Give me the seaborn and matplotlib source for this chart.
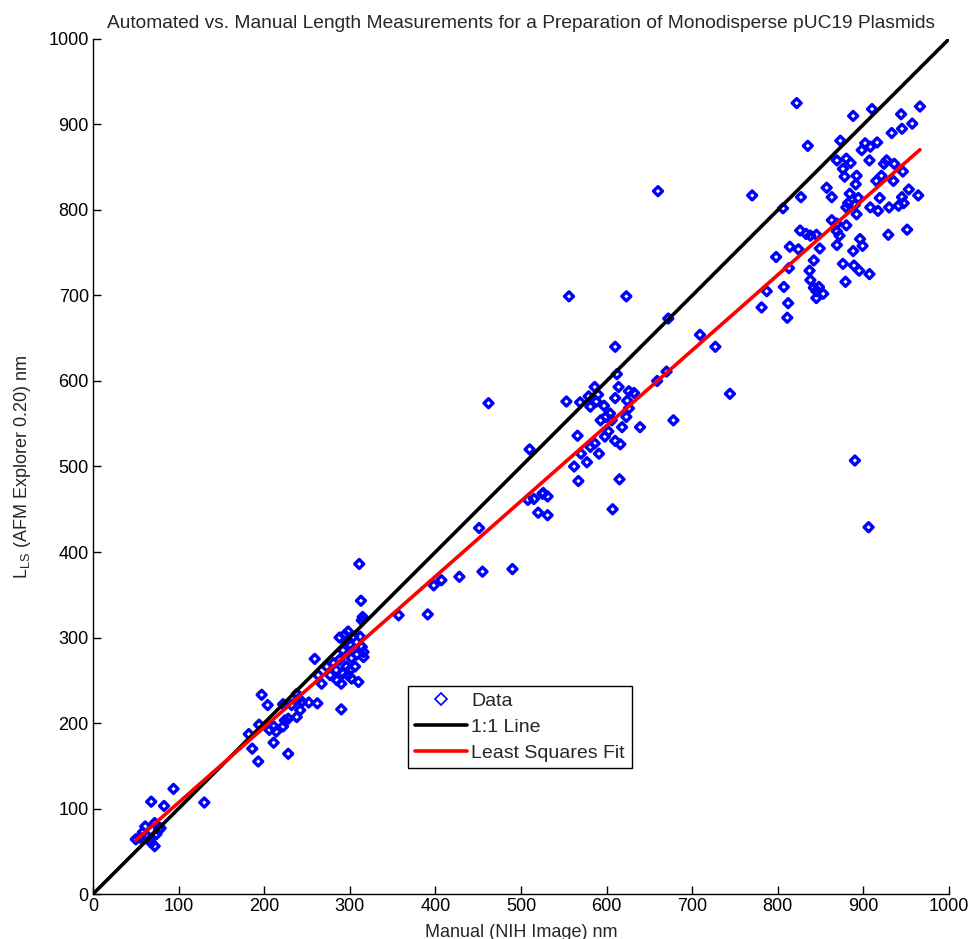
import numpy as np
import pandas as pd
import matplotlib
matplotlib.use("Agg")
import matplotlib.pyplot as plt
from matplotlib.lines import Line2D
import seaborn as sns

# Manual (NIH Image) lengths, nm
manual_nm = [
    50, 55, 58, 61, 63, 66, 68, 72, 72, 74, 77, 79, 68, 83, 94, 130,
    311, 313, 315, 314, 357, 288, 294, 298, 304, 312, 314, 316, 316, 292, 302,
    259, 273, 281, 288, 296, 306, 263, 277, 267, 285, 290, 298, 302, 310,
    197, 204, 222, 238, 232, 242, 244, 252, 262, 290, 194, 182, 211, 214, 222,
    228, 238, 224, 186, 211, 193, 228, 295, 300, 308, 284, 292, 300, 240, 206,
    391, 398, 407, 428, 455, 490, 451, 462, 510, 508, 515, 525, 531, 520, 531, 526,
    556, 623, 672, 709, 727, 610, 612, 670, 659, 744, 586, 614, 626, 632, 579,
    590, 553, 569, 581, 588, 610, 624, 597, 626, 604, 599, 593, 623, 606, 618,
    639, 678, 602, 598, 566, 610, 616, 586, 581, 591, 570, 577, 562, 567, 615,
    607, 660,
    822, 966, 910, 888, 944, 957, 945, 933, 873, 835, 902, 908, 916, 898, 869,
    880, 885, 907, 924, 927, 936, 876, 878, 892, 946, 921, 915, 935, 891, 857,
    953, 770, 827, 863, 884, 894, 919, 945, 964, 882, 880, 890, 908, 917, 930,
    941, 947, 806, 892, 863, 869, 880, 826, 833, 838, 845, 869, 872, 929, 951,
    896, 899, 814, 824, 849, 869, 798, 888, 842, 813, 876, 889, 895, 907, 837,
    838, 879, 807, 842, 848, 845, 853, 787, 812, 845, 781, 811, 890, 906,
]

# Automated (AFM Explorer 0.20) lengths, nm
auto_nm = [
    64, 66, 72, 79, 68, 63, 60, 56, 83, 70, 75, 77, 108, 103, 123, 107,
    386, 343, 324, 320, 326, 300, 303, 307, 301, 301, 289, 283, 277, 285, 276,
    275, 266, 270, 274, 266, 266, 256, 256, 246, 250, 246, 256, 252, 248,
    233, 221, 222, 234, 221, 215, 225, 224, 223, 216, 198, 187, 196, 190, 196,
    205, 207, 203, 170, 177, 155, 164, 295, 292, 280, 262, 258, 262, 228, 192,
    327, 361, 367, 371, 377, 380, 428, 574, 520, 461, 462, 468, 465, 446, 443, 469,
    699, 699, 673, 654, 640, 640, 608, 611, 600, 585, 593, 593, 588, 586, 582,
    584, 576, 575, 570, 576, 580, 577, 571, 568, 562, 558, 554, 558, 554, 546,
    546, 554, 541, 535, 536, 530, 526, 527, 523, 515, 515, 505, 500, 483, 485,
    450, 822,
    925, 921, 918, 910, 912, 901, 895, 890, 881, 875, 878, 874, 879, 870, 858,
    860, 855, 858, 854, 858, 854, 848, 839, 840, 845, 840, 834, 834, 830, 826,
    824, 817, 815, 815, 819, 814, 814, 815, 817, 808, 803, 806, 803, 799, 803,
    805, 808, 802, 795, 788, 784, 782, 776, 772, 770, 771, 775, 770, 771, 777,
    766, 758, 757, 754, 755, 759, 745, 752, 741, 732, 737, 735, 729, 725, 729,
    718, 716, 710, 709, 710, 705, 702, 705, 691, 697, 686, 674, 507, 429,
]

tick_values = list(range(0, 1001, 100))

df = pd.DataFrame({"manual": manual_nm, "auto": auto_nm})

# Least squares line over the measured range
slope, intercept = np.polyfit(df["manual"], df["auto"], 1)
fit_x = np.array([df["manual"].min(), df["manual"].max()])
fit_df = pd.DataFrame({"x": fit_x, "y": slope * fit_x + intercept})
ident_df = pd.DataFrame({"x": [0, 1000], "y": [0, 1000]})

sns.set_theme(style="white")
plt.rcParams['font.family'] = ['Liberation Sans', 'DejaVu Sans']
plt.rcParams['mathtext.fontset'] = 'custom'
plt.rcParams['mathtext.rm'] = 'Liberation Sans'

fig = plt.figure(figsize=(9.71, 9.39), dpi=100)
ax = fig.add_axes([0.0958, 0.0479, 0.8816, 0.9106])

sns.scatterplot(data=df, x="manual", y="auto", ax=ax, marker="D", s=21,
                facecolor="none", edgecolor="#0000ff", linewidth=2.4,
                legend=False, zorder=2)
sns.lineplot(data=ident_df, x="x", y="y", ax=ax, color="black", lw=2.6,
             legend=False, zorder=3)
sns.lineplot(data=fit_df, x="x", y="y", ax=ax, color="red", lw=2.6,
             legend=False, zorder=4)

ax.set_xlim(0, 1000)
ax.set_ylim(0, 1000)
ax.set_xticks(tick_values)
ax.set_yticks(tick_values)
ax.tick_params(direction="in", length=6, width=1, labelsize=13, pad=3,
               colors="black", top=False, right=False, bottom=True, left=True)
for side in ("top", "right"):
    ax.spines[side].set_visible(False)
for side in ("left", "bottom"):
    ax.spines[side].set_color("black")
    ax.spines[side].set_linewidth(1.0)

ax.set_title("Automated vs. Manual Length Measurements for a Preparation of "
             "Monodisperse pUC19 Plasmids", fontsize=13.8, pad=8)
ax.set_xlabel("Manual (NIH Image) nm", fontsize=13, labelpad=6)
ax.set_ylabel(r"L$_{\mathregular{LS}}$ (AFM Explorer 0.20) nm", fontsize=13,
              labelpad=11)

handles = [
    Line2D([], [], marker="D", ls="none", mfc="none", mec="#0000ff", ms=6,
           mew=1.2),
    Line2D([], [], color="black", lw=2.6),
    Line2D([], [], color="red", lw=2.6),
]
leg = ax.legend(handles, ["Data", "1:1 Line", "Least Squares Fit"],
                loc="lower left", bbox_to_anchor=(0.368, 0.147),
                borderaxespad=0, fontsize=14, frameon=True, fancybox=False,
                framealpha=1, edgecolor="black", handlelength=2.7,
                borderpad=0.35, labelspacing=0.42, handletextpad=0.2)
leg.get_frame().set_linewidth(1.0)

fig.savefig("out.png", dpi=100)
